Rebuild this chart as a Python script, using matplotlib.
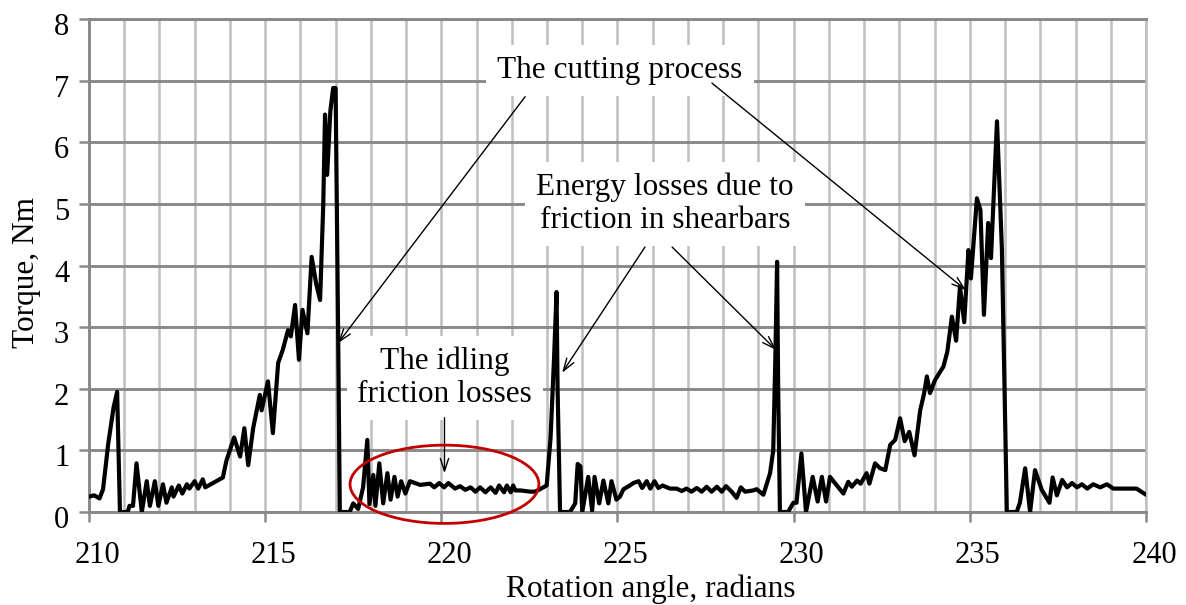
import matplotlib
matplotlib.use('Agg')

import matplotlib.pyplot as plt
from matplotlib.patches import Ellipse
from matplotlib.transforms import ScaledTranslation

# torque curve (rotation angle in radians, torque in Nm)
angle = [210.0, 210.15, 210.3, 210.4, 210.55, 210.7, 210.8, 210.88,
         211.1, 211.15, 211.25, 211.35, 211.5, 211.64, 211.73, 211.87, 211.97,
         212.1, 212.2, 212.35, 212.4, 212.55, 212.65, 212.78, 212.85,
         213.0, 213.1, 213.23, 213.3, 213.55, 213.8, 213.9,
         214.12, 214.29, 214.41, 214.52, 214.66, 214.85, 214.9,
         215.08, 215.22, 215.37, 215.5, 215.65, 215.73, 215.85, 215.96,
         216.06, 216.2, 216.32, 216.45, 216.56, 216.65, 216.7, 216.76, 216.85,
         216.93, 217.0, 217.07, 217.12,
         217.4, 217.5, 217.64, 217.78, 217.9, 217.96,
         218.07, 218.13, 218.24, 218.35, 218.47, 218.56, 218.67, 218.76, 218.86, 218.98,
         219.11, 219.4, 219.68, 219.8, 219.94,
         220.08, 220.2, 220.39, 220.53, 220.68, 220.83, 220.97,
         221.1, 221.25, 221.4, 221.54, 221.64, 221.78, 221.86, 221.97,
         222.04, 222.1, 222.25, 222.52, 222.66, 222.8, 222.99,
         223.1, 223.2, 223.27, 223.3, 223.37,
         223.65, 223.8, 223.87, 223.95, 224.0,
         224.17, 224.28, 224.35, 224.48, 224.6, 224.74, 224.83, 224.97,
         225.07, 225.17, 225.35, 225.45, 225.6, 225.7, 225.83, 225.93,
         226.05, 226.16, 226.28, 226.49, 226.68, 226.82, 226.96,
         227.1, 227.25, 227.39, 227.53, 227.67, 227.82, 227.96,
         228.08, 228.24, 228.38, 228.5, 228.62, 228.85, 228.95,
         229.14, 229.33, 229.42, 229.48, 229.53, 229.56, 229.61,
         229.84, 229.99, 230.08, 230.22, 230.35, 230.54, 230.68, 230.8, 230.92,
         231.03, 231.41, 231.55, 231.65, 231.8, 231.9,
         232.07, 232.15, 232.31, 232.45, 232.6, 232.74, 232.88,
         233.02, 233.15, 233.28, 233.43, 233.59, 233.7, 233.78, 233.87,
         234.01, 234.25, 234.36, 234.49, 234.61, 234.72, 234.84, 234.96,
         235.03, 235.2, 235.3, 235.4, 235.52, 235.6, 235.77, 235.91,
         236.05, 236.33, 236.42, 236.57, 236.71, 236.85,
         237.04, 237.26, 237.35, 237.47, 237.62, 237.76, 237.9,
         238.04, 238.18, 238.33, 238.5, 238.7, 238.89,
         239.07, 239.36, 239.73, 240.0]
torque = [0.25, 0.27, 0.22, 0.37, 1.12, 1.7, 1.95, 0.0,
          0.0, 0.1, 0.1, 0.79, 0.0, 0.5, 0.1, 0.5, 0.1,
          0.45, 0.15, 0.4, 0.25, 0.43, 0.3, 0.45, 0.38,
          0.5, 0.38, 0.53, 0.4, 0.48, 0.56, 0.83,
          1.21, 0.9, 1.36, 0.76, 1.36, 1.9, 1.65,
          2.12, 1.28, 2.42, 2.63, 2.95, 2.85, 3.36, 2.47,
          3.28, 2.9, 4.14, 3.7, 3.44, 5.0, 6.45, 5.47, 6.5,
          6.88, 6.88, 3.0, 0.0,
          0.0, 0.14, 0.05, 0.4, 1.17, 0.13,
          0.6, 0.1, 0.79, 0.14, 0.63, 0.2, 0.57, 0.25, 0.5, 0.3,
          0.5, 0.44, 0.46, 0.4, 0.47,
          0.4, 0.47, 0.38, 0.42, 0.36, 0.4, 0.33,
          0.4, 0.32, 0.4, 0.31, 0.43, 0.32, 0.43, 0.32,
          0.43, 0.35, 0.35, 0.33, 0.33, 0.37, 0.43,
          1.2, 2.5, 3.57, 2.0, 0.0,
          0.0, 0.14, 0.78, 0.74, 0.0,
          0.57, 0.02, 0.57, 0.14, 0.51, 0.14, 0.5, 0.2,
          0.25, 0.37, 0.43, 0.47, 0.5, 0.39, 0.5, 0.38,
          0.5, 0.39, 0.43, 0.38, 0.38, 0.34, 0.38,
          0.33, 0.39, 0.33, 0.41, 0.33, 0.41, 0.33,
          0.42, 0.33, 0.23, 0.4, 0.33, 0.35, 0.37,
          0.28, 0.63, 1.0, 2.5, 4.06, 2.0, 0.0,
          0.0, 0.15, 0.15, 0.95, 0.0, 0.57, 0.17, 0.57, 0.17,
          0.57, 0.3, 0.49, 0.41, 0.51, 0.46,
          0.63, 0.46, 0.79, 0.71, 0.68, 1.09, 1.17,
          1.52, 1.15, 1.3, 0.92, 1.65, 1.92, 2.2, 1.93,
          2.14, 2.36, 2.6, 3.17, 2.78, 3.66, 3.08, 4.25,
          3.79, 5.09, 4.9, 3.2, 4.69, 4.12, 6.34, 4.26,
          0.0, 0.0, 0.15, 0.71, 0.0, 0.68,
          0.36, 0.15, 0.56, 0.27, 0.52, 0.4, 0.47,
          0.4, 0.45, 0.38, 0.45, 0.4, 0.45,
          0.38, 0.38, 0.38, 0.28]

x_ticks = [210, 215, 220, 225, 230, 235, 240]
x_grid = list(range(210, 241))
y_ticks = [0, 1, 2, 3, 4, 5, 6, 7, 8]

DARK = '#898989'
LIGHT = '#bfbfbf'

plt.rcParams['font.family'] = 'Liberation Serif'

fig = plt.figure(figsize=(11.86, 6.05), dpi=100)
ax = fig.add_axes([0.075, 0.1537, 0.8913, 0.8149])

ax.plot(angle, torque, color='black', lw=3.0, solid_joinstyle='round',
        solid_capstyle='round', zorder=3)

ax.set_xlim(210, 240)
ax.set_ylim(0, 8)
ax.set_xticks(x_ticks)
ax.set_xticks(x_grid, minor=True)
ax.set_yticks(y_ticks)
ax.set_axisbelow(True)
ax.grid(axis='x', which='both', color=LIGHT, lw=1.8)
ax.grid(axis='y', which='major', color=DARK, lw=2.1)

for side in ['left', 'bottom', 'top']:
    ax.spines[side].set_color(DARK)
    ax.spines[side].set_linewidth(2.1)
ax.spines['right'].set_color(LIGHT)
ax.spines['right'].set_linewidth(1.8)

ax.tick_params(axis='x', which='major', length=7.2, width=1.8, color=DARK,
               labelsize=22, pad=14)
ax.tick_params(axis='x', which='minor', length=0)
ax.tick_params(axis='y', length=7.2, width=1.8, color=DARK, labelsize=22, pad=7)

# Excel puts the labels a little off the ticks
for lab in ax.get_xticklabels():
    lab.set_transform(lab.get_transform() + ScaledTranslation(0.08, 0, fig.dpi_scale_trans))
for lab in ax.get_yticklabels():
    lab.set_transform(lab.get_transform() + ScaledTranslation(0, -0.05, fig.dpi_scale_trans))

fig.text(651 / 1186, 1 - 589 / 605, 'Rotation angle, radians', fontsize=22.5,
         ha='center', va='center')
fig.text(27 / 1186, 1 - 272 / 605, 'Torque, Nm', fontsize=22.5, rotation=90,
         ha='center', va='center')

box = dict(boxstyle='square,pad=0.35', fc='white', ec='none')
ax.text(225.07, 7.16, 'The cutting process', fontsize=22.5, ha='center', va='center',
        bbox=box, zorder=4)
ax.text(226.35, 5.0, 'Energy losses due to\nfriction in shearbars', fontsize=22.5,
        ha='center', va='center', linespacing=1.15, bbox=box, zorder=4)
ax.text(220.1, 2.18, 'The idling\nfriction losses', fontsize=22.5, ha='center',
        va='center', linespacing=1.15, bbox=box, zorder=4)

arrows = [((222.38, 6.74), (217.07, 2.74)),
          ((227.68, 6.96), (234.89, 3.6)),
          ((225.78, 4.3), (223.43, 2.26)),
          ((226.55, 4.3), (229.5, 2.63)),
          ((220.09, 1.53), (220.09, 0.63))]
for start, tip in arrows:
    ax.annotate('', xy=tip, xytext=start,
                arrowprops=dict(arrowstyle='->,head_length=0.9,head_width=0.3',
                                color='black', lw=1.0, shrinkA=0, shrinkB=0,
                                mutation_scale=10),
                zorder=5)

ax.add_patch(Ellipse((220.09, 0.45), 5.36, 1.27, fill=False, ec='#c00000', lw=2,
                     clip_on=False, zorder=5))

plt.savefig('out.png', dpi=100)
